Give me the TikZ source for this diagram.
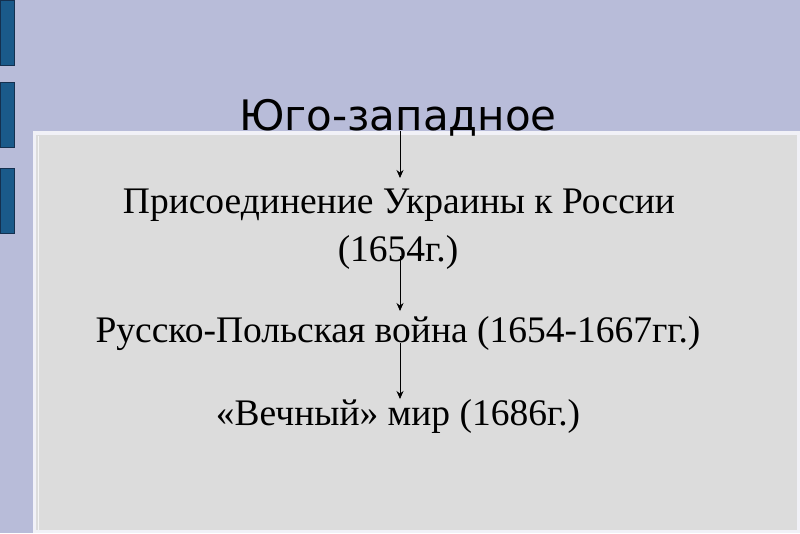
\documentclass[tikz,border=0pt]{standalone}
\usepackage{fontspec}
\setmainfont{Liberation Serif}
\newfontfamily\titlefont{DejaVu Sans}
\usetikzlibrary{arrows.meta}
\definecolor{bgc}{HTML}{B8BCD9}
\definecolor{panelc}{HTML}{DCDCDC}
\definecolor{barc}{HTML}{1A5A8A}
\definecolor{baredge}{HTML}{14304F}
\tikzset{
  bar/.style={fill=barc,draw=baredge,line width=0.8pt},
  txt/.style={font=\fontsize{37.5}{44}\selectfont,inner sep=0pt,anchor=base},
  ttl/.style={font=\titlefont\fontsize{42}{48}\selectfont,inner sep=0pt,anchor=base},
  arr/.style={-{Stealth[length=8pt,width=7pt]},line width=0.8pt,black}
}
\begin{document}
\begin{tikzpicture}[x=1pt,y=-1pt]
\useasboundingbox (0,0) rectangle (800,533);
\fill[bgc] (0,0) rectangle (800,533);
\draw[bar] (0,0) rectangle (14,65);
\draw[bar] (0,82) rectangle (14,147);
\draw[bar] (0,168) rectangle (14,233);
\fill[white!80!bgc] (33,131) rectangle (800,533);
\fill[panelc] (36,135) rectangle (797,530);
\draw[white!70!panelc,line width=1pt] (38,136) -- (38,530);
\node[ttl] (t) at (398,130) {Юго-западное};
\node[txt] (a) at (399,213) {Присоединение Украины к России};
\node[txt] (b) at (398,261) {(1654г.)};
\node[txt] (c) at (398,342) {Русско-Польская война (1654-1667гг.)};
\node[txt] (d) at (398,425) {«Вечный» мир (1686г.)};
\coordinate (a1) at (400,131);
\coordinate (a2) at (400,178);
\coordinate (b1) at (400,256);
\coordinate (b2) at (400,311);
\coordinate (c1) at (400,343);
\coordinate (c2) at (400,399);
\draw[arr] (a1) -- (a2);
\draw[arr] (b1) -- (b2);
\draw[arr] (c1) -- (c2);
\end{tikzpicture}
\end{document}
